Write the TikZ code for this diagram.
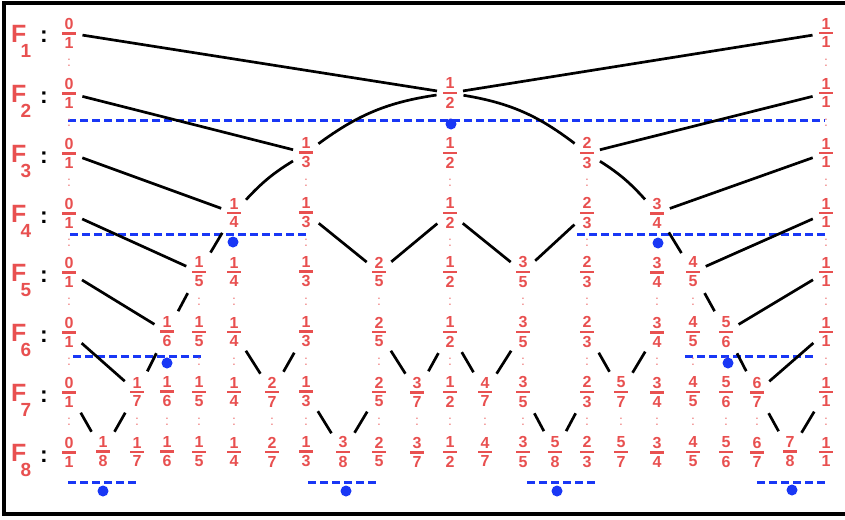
\documentclass[tikz,border=0pt]{standalone}
\usepackage{fontspec}
\setmainfont{Liberation Sans}
\definecolor{frred}{RGB}{232,80,80}
\definecolor{colred}{RGB}{238,125,125}
\definecolor{dblue}{RGB}{25,55,245}
\newcommand\myfrac[2]{\vbox{\offinterlineskip\halign{\hfil##\hfil\cr #1\cr\noalign{\kern2.6pt}\rule{14pt}{2.7pt}\cr\noalign{\kern2.6pt}#2\cr}}}
\newcommand\flabel[1]{F\kern-5.8pt\raisebox{-15pt}{\fontsize{19}{19}\selectfont #1}}
\begin{document}
\begin{tikzpicture}[x=1pt,y=-1pt,
  frac/.style={inner sep=3pt,outer sep=0pt,text=frred,font=\bfseries\fontsize{16}{16}\selectfont},
  flab/.style={inner sep=0pt,text=frred,font=\bfseries\fontsize{25}{25}\selectfont},
  bcolon/.style={inner sep=0pt,text=black,font=\bfseries\fontsize{23}{23}\selectfont},
  rcolon/.style={inner sep=0pt,text=colred,font=\fontsize{14}{14}\selectfont},
  conn/.style={line width=2.7pt,black,shorten <=3.5pt,shorten >=3pt},
  bluedash/.style={line width=3pt,dblue,dash pattern=on 8pt off 4pt},
  bdot/.style={circle,fill=dblue,inner sep=0pt,minimum size=11pt}]
\useasboundingbox (0,0) rectangle (845,519);
\clip (0,0) rectangle (845,519);
\draw[line width=3.5pt] (4,3) rectangle (880,514);
\def\xs{{69,103,137,167,199,234,272,306,343,379,417,450,485,523,555,587,621,657,693,726,757,790,826}}
\def\ys{{33,93,153,213,272,332,392,452,512}}
% blue dashed intervals
\coordinate (a1) at (68,120); \coordinate (b1) at (825,120);
\coordinate (a2) at (70,234); \coordinate (b2) at (307,234);
\coordinate (a3) at (577,234); \coordinate (b3) at (825,234);
\coordinate (a4) at (73,356); \coordinate (b4) at (202,356);
\coordinate (a5) at (685,356); \coordinate (b5) at (815,356);
\coordinate (a6) at (68,482); \coordinate (b6) at (137,482);
\coordinate (a7) at (308,482); \coordinate (b7) at (377,482);
\coordinate (a8) at (527,482); \coordinate (b8) at (597,482);
\coordinate (a9) at (757,482); \coordinate (b9) at (827,482);
\foreach \i in {1,...,9}{\draw[bluedash] (a\i) -- (b\i);}
% rows
\foreach \k in {1,...,8}{
  \pgfmathtruncatemacro\ka{\k-1}
  \pgfmathsetmacro\yy{\ys[\ka]}
  \pgfmathsetmacro\yn{\ys[\k]}
  \pgfmathsetmacro\yc{(\yy+\yn)/2}
  \node[flab,anchor=base west] (F\k) at (11,\yy+9) {\flabel{\k}};
  \node[bcolon,anchor=base] (C\k) at (44,\yy+10) {:};
  \foreach \c/\n/\d in {0/0/1,1/1/8,2/1/7,3/1/6,4/1/5,5/1/4,6/2/7,7/1/3,8/3/8,9/2/5,10/3/7,11/1/2,12/4/7,13/3/5,14/5/8,15/2/3,16/5/7,17/3/4,18/4/5,19/5/6,20/6/7,21/7/8,22/1/1}{
    \ifnum\d>\k\else
      \pgfmathsetmacro\xx{\xs[\c]}
      \node[frac] (r\k-\c) at (\xx,\yy) {\myfrac{\n}{\d}};
      \ifnum\k<8
        \node[rcolon] (q\k-\c) at (\xx,\yc) {:};
      \fi
    \fi
  }
}
% connectors
\draw[conn] (r1-0) -- (r2-11);
\draw[conn] (r1-22) -- (r2-11);
\draw[conn] (r2-0) -- (r3-7);
\draw[conn] (r2-11) to[bend right=14] (r3-7);
\draw[conn] (r2-11) to[bend left=14] (r3-15);
\draw[conn] (r2-22) -- (r3-15);
\draw[conn] (r3-0) -- (r4-5);
\draw[conn] (r3-7) to[bend right=8] (r4-5);
\draw[conn] (r3-15) to[bend left=8] (r4-17);
\draw[conn] (r3-22) -- (r4-17);
\foreach \p/\c in {0/4,5/4,7/9,11/9,11/13,15/13,17/18,22/18}{\draw[conn] (r4-\p) -- (r5-\c);}
\foreach \p/\c in {0/3,4/3,18/19,22/19}{\draw[conn] (r5-\p) -- (r6-\c);}
\foreach \p/\c in {0/2,3/2,5/6,7/6,9/10,11/10,11/12,13/12,15/16,17/16,19/20,22/20}{\draw[conn] (r6-\p) -- (r7-\c);}
\foreach \p/\c in {0/1,2/1,7/8,9/8,13/14,15/14,20/21,22/21}{\draw[conn] (r7-\p) -- (r8-\c);}
% dots
\node[bdot] (d1) at (451,124) {};
\node[bdot] (d2) at (233,242) {};
\node[bdot] (d3) at (658,243) {};
\node[bdot] (d4) at (167,363) {};
\node[bdot] (d5) at (728,363) {};
\node[bdot] (d6) at (103,491) {};
\node[bdot] (d7) at (346,491) {};
\node[bdot] (d8) at (557,491) {};
\node[bdot] (d9) at (792,490) {};
\end{tikzpicture}
\end{document}
